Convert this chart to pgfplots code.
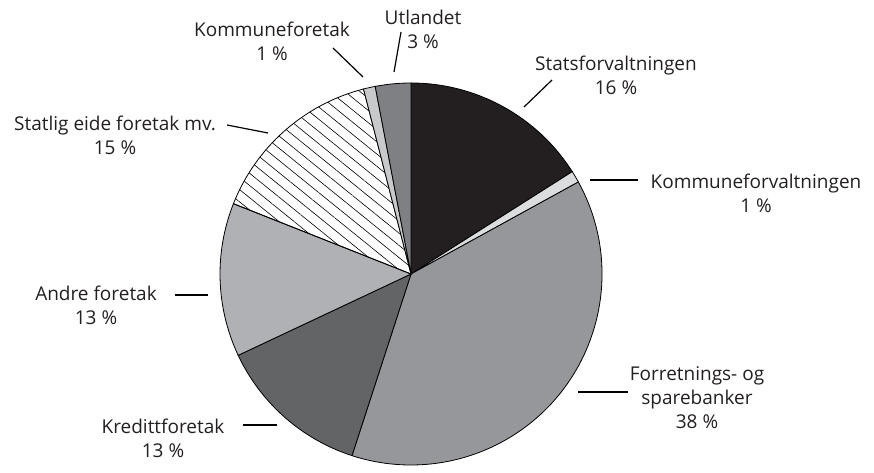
\documentclass[border=0pt]{standalone}
\usepackage{fontspec}
\setmainfont{Open Sans}
\usepackage{pgfplots}
\usepackage{pgfplotstable}
\pgfplotsset{compat=1.18}
\usetikzlibrary{patterns.meta}
\definecolor{txt}{HTML}{231F20}
\definecolor{c0}{HTML}{231F20}
\definecolor{c1}{HTML}{DCDDDE}
\definecolor{c2}{HTML}{96979A}
\definecolor{c3}{HTML}{636466}
\definecolor{c4}{HTML}{B0B1B4}
\definecolor{c6}{HTML}{C8C9CB}
\definecolor{c7}{HTML}{7F8083}
\tikzset{
 slice0/.style={fill=c0,draw=black,line width=0.8pt},
 slice1/.style={fill=c1,draw=black,line width=0.8pt},
 slice2/.style={fill=c2,draw=black,line width=0.8pt},
 slice3/.style={fill=c3,draw=black,line width=0.8pt},
 slice4/.style={fill=c4,draw=black,line width=0.8pt},
 slice5/.style={pattern={Lines[angle=-39,distance=9.5pt,line width=0.6pt]},pattern color=black,draw=black,line width=0.8pt},
 slice6/.style={fill=c6,draw=black,line width=0.8pt},
 slice7/.style={fill=c7,draw=black,line width=0.8pt},
 lab/.style={align=center,text=txt,font=\fontsize{19}{24}\selectfont},
 lead/.style={draw=black,line width=1.2pt},
}
\pgfplotstableread[col sep=comma]{
name,value
Statsforvaltningen,16
Kommuneforvaltningen,1
Forretnings- og sparebanker,38
Kredittforetak,13
Andre foretak,13
Statlig eide foretak mv.,15
Kommuneforetak,1
Utlandet,3
}\piedata
\begin{document}
\begin{tikzpicture}
\begin{axis}[scale only axis, width=874pt, height=468pt,
  xmin=0, xmax=874, ymin=0, ymax=468, hide axis, clip=false]
\path (rel axis cs:0,0) rectangle (rel axis cs:1,1);
\pgfplotstablegetrowsof{\piedata}
\pgfmathtruncatemacro\N{\pgfplotsretval-1}
\def\cum{0}
\pgfplotsforeachungrouped \i in {0,...,\N}{%
  \pgfplotstablegetelem{\i}{value}\of\piedata
  \let\v=\pgfplotsretval
  \pgfmathsetmacro\a{90-3.6*\cum}%
  \pgfmathsetmacro\b{90-3.6*(\cum+\v)}%
  \pgfmathsetmacro\cum{\cum+\v}%
  \edef\cmd{\noexpand\path[slice\i] (axis cs:411,194) -- ([shift={(\a:191pt)}]axis cs:411,194) arc[start angle=\a, end angle=\b, radius=191pt] -- cycle;}%
  \cmd
}
\node[lab] at (axis cs:423,439) {Utlandet\\3 \%};
\node[lab] at (axis cs:272,426.5) {Kommuneforetak\\1 \%};
\node[lab] at (axis cs:616,393) {Statsforvaltningen\\16 \%};
\node[lab] at (axis cs:756,274.5) {Kommuneforvaltningen\\1 \%};
\node[lab] at (axis cs:697,70) {Forretnings- og\\sparebanker\\38 \%};
\node[lab] at (axis cs:163,29.5) {Kredittforetak\\13 \%};
\node[lab] at (axis cs:96,163) {Andre foretak\\13 \%};
\node[lab] at (axis cs:115,333) {Statlig eide foretak mv.\\15 \%};
\draw[lead] (axis cs:401,436) -- (axis cs:394,396);
\draw[lead] (axis cs:333,420) -- (axis cs:363,391);
\draw[lead] (axis cs:552,388) -- (axis cs:524,361);
\draw[lead] (axis cs:590,288) -- (axis cs:638,288);
\draw[lead] (axis cs:578,76) -- (axis cs:628,76);
\draw[lead] (axis cs:243,43) -- (axis cs:277,43);
\draw[lead] (axis cs:175,173) -- (axis cs:208,173);
\draw[lead] (axis cs:227,343) -- (axis cs:268,335);
\end{axis}
\end{tikzpicture}
\end{document}
